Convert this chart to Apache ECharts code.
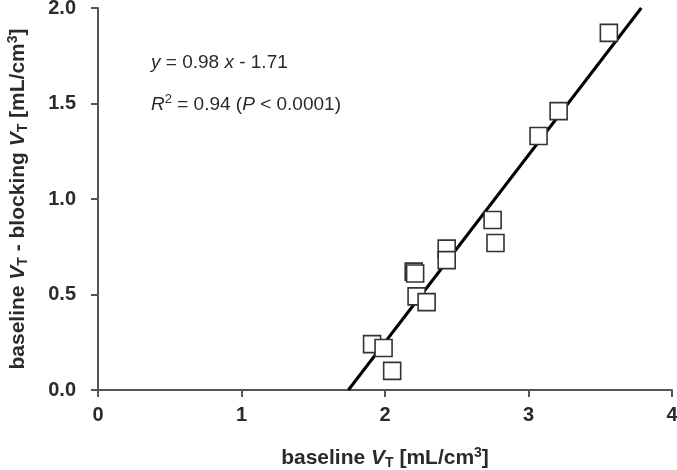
<!DOCTYPE html>
<html>
<head>
	<meta charset="utf-8"/>
	<title>baseline VT vs occupancy</title>
	<style type="text/css">
		html,body{ margin:0; padding:0; background:#fff; }
		#chart{ width:677px; height:470px; }
	</style>
</head>
<body>
	<div id="chart"></div>
	<script src="https://cdn.jsdelivr.net/npm/echarts@6/dist/echarts.min.js"></script>
	<script type="text/javascript">

		// baseline VT (x) and baseline VT - blocking VT (y)
		var baselineVT = [1.91, 1.99, 2.05, 2.20, 2.21, 2.22, 2.29, 2.43, 2.43, 2.75, 2.77, 3.07, 3.21, 3.56];
		var diffVT     = [0.24, 0.22, 0.10, 0.62, 0.61, 0.49, 0.46, 0.74, 0.68, 0.89, 0.77, 1.33, 1.46, 1.87];

		// regression  y = slope * x + intercept
		var slope = 0.98;
		var intercept = -1.71;

		var xTicks = [0, 1, 2, 3, 4];
		var yTicks = [0, 0.5, 1.0, 1.5, 2.0];

		var points = baselineVT.map(function(x, i){ return [x, diffVT[i]]; });
		var yLo = yTicks[0], yHi = yTicks[yTicks.length - 1];
		var fitLine = [
			[(yLo - intercept) / slope, yLo],
			[(yHi - intercept) / slope, yHi]
		];

		var font = '"Liberation Sans", Arial, sans-serif';
		var ink = '#2a2a2a';

		// bold axis-title rich styles (V italic, T subscript, 3 superscript)
		var titleRich = {
			n: { fontFamily: font, fontSize: 21, fontWeight: 'bold', color: ink, lineHeight: 24 },
			v: { fontFamily: font, fontSize: 21, fontWeight: 'bold', fontStyle: 'italic', color: ink, lineHeight: 24 },
			sub: { fontFamily: font, fontSize: 14, fontWeight: 'bold', color: ink, verticalAlign: 'bottom', lineHeight: 24 },
			sup: { fontFamily: font, fontSize: 14, fontWeight: 'bold', color: ink, verticalAlign: 'top', lineHeight: 24 }
		};

		var chart = echarts.init(document.getElementById('chart'));

		var option = {
			backgroundColor: '#fff',
			animation: false,
			grid: { left: 98, right: 5, top: 8, bottom: 80, outerBoundsMode: 'none', containLabel: false },
			title: [
				{
					left: 146, top: 46,
					text: '{i|y} = 0.98 {i|x} - 1.71',
					textStyle: {
						fontFamily: font, fontSize: 19, fontWeight: 'normal', color: ink, lineHeight: 24,
						rich: { i: { fontFamily: font, fontSize: 19, fontStyle: 'italic', color: ink, lineHeight: 24 } }
					}
				},
				{
					left: 146, top: 88,
					text: '{i|R}{sup|2} = 0.94 ({i|P} < 0.0001)',
					textStyle: {
						fontFamily: font, fontSize: 19, fontWeight: 'normal', color: ink, lineHeight: 24,
						rich: {
							i: { fontFamily: font, fontSize: 19, fontStyle: 'italic', color: ink, lineHeight: 24 },
							sup: { fontFamily: font, fontSize: 13, color: ink, verticalAlign: 'top', lineHeight: 24 }
						}
					}
				}
			],
			xAxis: {
				type: 'value',
				min: xTicks[0], max: xTicks[xTicks.length - 1], interval: 1,
				splitLine: { show: false },
				axisLine: { onZero: false, lineStyle: { color: '#555', width: 2 } },
				axisTick: { length: 7, lineStyle: { color: '#555', width: 2 } },
				axisLabel: { fontFamily: font, fontSize: 20, fontWeight: 'bold', color: ink, margin: 15 },
				name: '{n|baseline }{v|V}{sub|T}{n| [mL/cm}{sup|3}{n|]}',
				nameLocation: 'middle',
				nameGap: 56,
				nameTextStyle: { rich: titleRich }
			},
			yAxis: {
				type: 'value',
				min: yLo, max: yHi, interval: 0.5,
				splitLine: { show: false },
				axisLine: { onZero: false, lineStyle: { color: '#555', width: 2 } },
				axisTick: { length: 7, lineStyle: { color: '#555', width: 2 } },
				axisLabel: {
					fontFamily: font, fontSize: 20, fontWeight: 'bold', color: ink, margin: 22,
					formatter: function(v){ return v.toFixed(1); }
				},
				name: '{n|baseline }{v|V}{sub|T}{n| - blocking }{v|V}{sub|T}{n| [mL/cm}{sup|3}{n|]}',
				nameLocation: 'middle',
				nameGap: 68,
				nameTextStyle: { rich: titleRich }
			},
			series: [
				{
					name: 'fit',
					type: 'line',
					data: fitLine,
					symbol: 'none',
					lineStyle: { color: '#000', width: 3 },
					z: 2
				},
				{
					name: 'data',
					type: 'scatter',
					data: points,
					symbol: 'rect',
					symbolSize: 17,
					itemStyle: { color: '#fff', borderColor: '#333', borderWidth: 1.6, opacity: 1 },
					z: 3
				}
			]
		};

		chart.setOption(option);

	</script>
</body>
</html>
